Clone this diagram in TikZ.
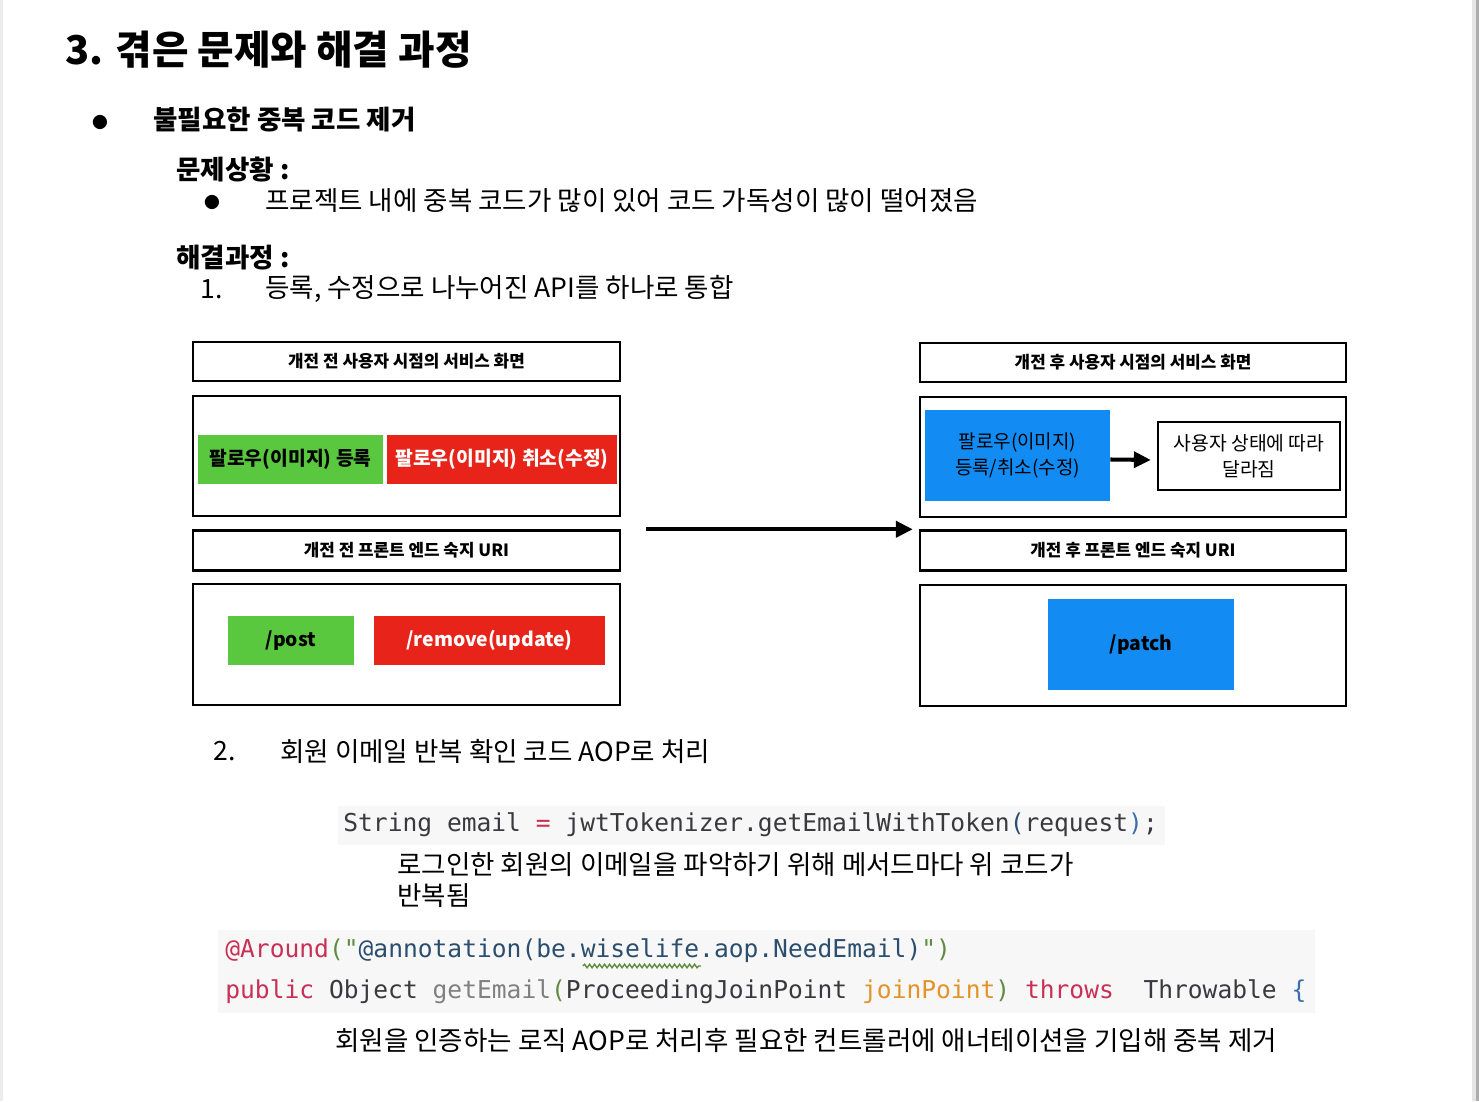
\documentclass[tikz,border=0pt]{standalone}
\usepackage{fontspec}
\setmainfont{Noto Sans CJK KR}
\setmonofont{DejaVu Sans Mono}
\usetikzlibrary{arrows.meta, positioning, decorations.pathmorphing}
\definecolor{tagGreen}{RGB}{90, 200, 62}
\definecolor{tagRed}{RGB}{232, 36, 26}
\definecolor{tagBlue}{RGB}{18, 140, 242}
\definecolor{codeInk}{RGB}{58, 58, 62}
\definecolor{codeKey}{RGB}{200, 48, 86}
\definecolor{codeStr}{RGB}{96, 140, 64}
\definecolor{codeSlate}{RGB}{44, 78, 110}
\definecolor{codeArg}{RGB}{226, 148, 40}
\definecolor{codeMuted}{RGB}{128, 128, 128}
\definecolor{codeBrace}{RGB}{60, 110, 170}
\definecolor{codeBg}{RGB}{247, 247, 247}

\begin{document}
\begin{tikzpicture}[x=0.02cm, y=-0.02cm,
  body/.style={anchor=west, inner sep=0pt, font=\fontsize{15.1}{17}\selectfont},
  bodybold/.style={body, font=\fontsize{15.1}{17}\selectfont\bfseries},
  dot/.style={inner sep=0pt, font=\fontsize{9}{9}\selectfont},
  hdr/.style={draw, line width=1.4pt, minimum width=8.54cm, minimum height=0.78cm, font=\fontsize{9.6}{11}\selectfont\bfseries},
  pane/.style={draw, line width=1.4pt, minimum width=8.54cm, minimum height=2.4cm},
  tag/.style={inner sep=0pt, align=center, font=\fontsize{11}{15}\selectfont\bfseries},
  code/.style={anchor=west, inner sep=0pt, text=codeInk, font=\ttfamily\fontsize{14}{17}\selectfont},
  fatarrow/.style={-{Triangle[length=9.6pt, width=9pt]}, line width=2.5pt}
]
  % Page
  \useasboundingbox (0,0) rectangle (1479,1101);
  \fill[white] (0,0) rectangle (1479,1101);
  \fill[gray!15] (0,0) rectangle (3,1101);
  \fill[gray!20] (1472,0) rectangle (1476,1101);
  \fill[gray!65] (1476,0) rectangle (1479,1101);

  % Headings
  \node[bodybold, font=\fontsize{22.6}{25}\selectfont\bfseries] (title) at (65,50) {3. 겪은 문제와 해결 과정};
  \node[dot] (dotTopic) at (100,122) {●};
  \node[bodybold] (topic) at (153,120) {불필요한 중복 코드 제거};

  % Problem
  \node[bodybold] (problemHead) at (176,170) {문제상황 :};
  \node[dot] (dotProblem) at (212,202) {●};
  \node[body] (problem) at (265,201) {프로젝트 내에 중복 코드가 많이 있어 코드 가독성이 많이 떨어졌음};

  % Solution 1
  \node[bodybold] (solveHead) at (176,258) {해결과정 :};
  \node[body] (numOne) at (200,289) {1.};
  \node[body] (stepOne) at (265,289) {등록, 수정으로 나누어진 API를 하나로 통합};

  % Before
  \node[hdr] (beforeUIhdr) at (406.5,361.5) {개전 전 사용자 시점의 서비스 화면};
  \node[pane] (beforeUI) at (406.5,456) {};
  \node[tag, fill=tagGreen, minimum width=3.7cm, minimum height=0.98cm] (beforeFollow) at (290.5,459.5) {팔로우(이미지) 등록};
  \node[tag, fill=tagRed, text=white, minimum width=4.6cm, minimum height=0.98cm] (beforeCancel) at (502,459.5) {팔로우(이미지) 취소(수정)};
  \node[hdr, minimum height=0.8cm] (beforeURIhdr) at (406.5,550.5) {개전 전 프론트 엔드 숙지 URI};
  \node[pane, minimum height=2.42cm] (beforeURI) at (406.5,644.5) {};
  \node[tag, fill=tagGreen, minimum width=2.52cm, minimum height=0.98cm] (beforePost) at (291,640.5) {/post};
  \node[tag, fill=tagRed, text=white, minimum width=4.62cm, minimum height=0.98cm] (beforeRemove) at (489.5,640.5) {/remove(update)};

  % After
  \node[hdr, minimum width=8.52cm] (afterUIhdr) at (1133,362.5) {개전 후 사용자 시점의 서비스 화면};
  \node[pane, minimum width=8.52cm] (afterUI) at (1133,457) {};
  \node[tag, fill=tagBlue, font=\fontsize{10.8}{15}\selectfont, minimum width=3.7cm, minimum height=1.82cm] (afterFollow) at (1017.5,455.5) {팔로우(이미지)\\등록/취소(수정)};
  \node[draw, line width=1.4pt, minimum width=3.64cm, minimum height=1.36cm, align=center, font=\fontsize{11}{14.7}\selectfont] (userState) at (1249,456) {사용자 상태에 따라\\달라짐};
  \node[hdr, minimum width=8.52cm, minimum height=0.8cm] (afterURIhdr) at (1133,550.5) {개전 후 프론트 엔드 숙지 URI};
  \node[pane, minimum width=8.52cm, minimum height=2.42cm] (afterURI) at (1133,645.5) {};
  \node[tag, fill=tagBlue, minimum width=3.72cm, minimum height=1.82cm] (afterPatch) at (1141,644.5) {/patch};

  % Arrows
  \draw[fatarrow, line width=2.3pt, shorten >=0.12cm] ([yshift=-0.08cm]afterFollow.east) -- ([yshift=-0.08cm]userState.west);
  \draw[fatarrow, shorten >=0.12cm] ([xshift=0.5cm]beforeURIhdr.north east) -- (afterURIhdr.north west);

  % Solution 2
  \node[body] (numTwo) at (213,751) {2.};
  \node[body] (stepTwo) at (280,751) {회원 이메일 반복 확인 코드 AOP로 처리};

  % Code snippets
  \fill[codeBg] (338,806) rectangle (1165,845);
  \node[code] (tokenLine) at (343,825) {String email \textcolor{codeKey}{=} jwtTokenizer.getEmailWithToken\textcolor{codeSlate}{(}request\textcolor{codeBrace}{)};};
  \node[body, align=left, font=\fontsize{15.1}{17.2}\selectfont] (tokenNote) at (397,880) {로그인한 회원의 이메일을 파악하기 위해 메서드마다 위 코드가\\반복됨};

  \fill[codeBg] (218,930) rectangle (1315,1013);
  \node[code] (aroundLine) at (225,951) {\textcolor{codeKey}{@Around}\textcolor{codeStr}{("}\textcolor{codeSlate}{@annotation(be.wiselife.aop.NeedEmail)}\textcolor{codeStr}{")}};
  \draw[codeStr, line width=0.8pt, decorate, decoration={snake, amplitude=0.035cm, segment length=0.1cm}] (583,966) -- (701,966);
  \node[code] (adviceLine) at (225,992) {\textcolor{codeKey}{public} Object \textcolor{codeMuted}{getEmail}\textcolor{codeStr}{(}ProceedingJoinPoint \textcolor{codeArg}{joinPoint}\textcolor{codeStr}{)} \textcolor{codeKey}{throws}\ \ Throwable \textcolor{codeBrace}{\{}};
  \node[body] (aopNote) at (335,1040) {회원을 인증하는 로직 AOP로 처리후 필요한 컨트롤러에 애너테이션을 기입해 중복 제거};
\end{tikzpicture}
\end{document}
